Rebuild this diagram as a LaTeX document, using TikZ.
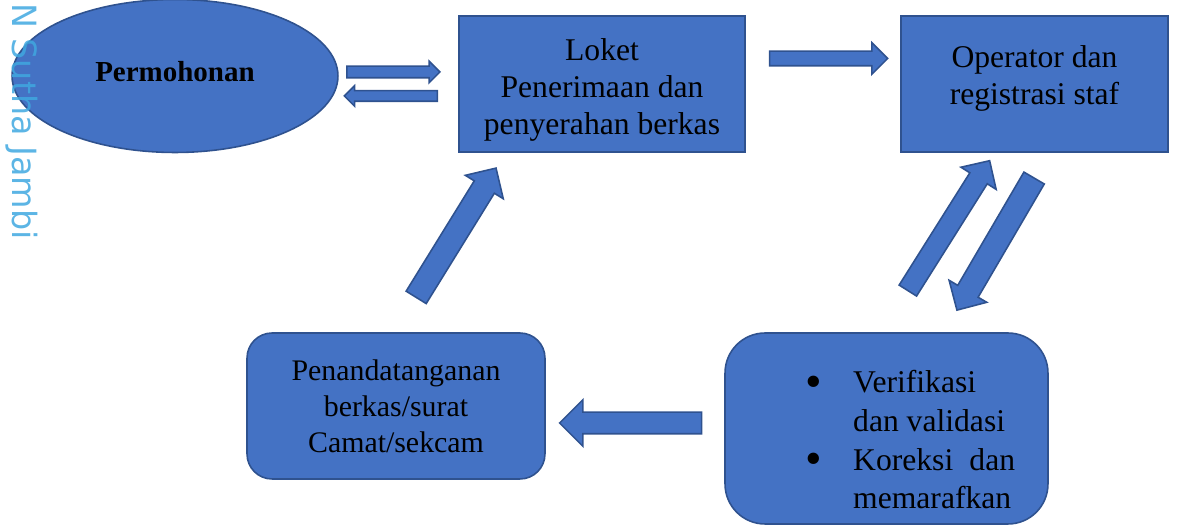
\documentclass[tikz,border=0pt]{standalone}
\usepackage{fontspec}
\setmainfont{Liberation Serif}
\newfontfamily\wmfont{DejaVu Sans}
\usetikzlibrary{positioning,shapes.geometric,shapes.arrows}
\definecolor{boxfill}{RGB}{68,114,196}
\definecolor{boxline}{RGB}{47,82,143}
\definecolor{wmblue}{RGB}{64,168,224}
\newcommand{\bigbul}{\makebox[0.96cm][l]{\raisebox{-2.6pt}{\scalebox{1.5}{\textbullet}}}}
\tikzset{box/.style={rectangle,draw=boxline,fill=boxfill,line width=0.9pt,inner sep=0pt},
	 rbox/.style={box,rounded corners=0.5cm},
	 oval/.style={ellipse,draw=boxline,fill=boxfill,line width=0.9pt,inner sep=0pt},
	 txt/.style={align=center,font=\fontsize{18}{21}\selectfont},
	 blok/.style={single arrow,draw=boxline,fill=boxfill,line width=0.9pt,inner xsep=0pt,single arrow tip angle=90}
	 }
\begin{document}
\begin{tikzpicture}[x=0.02cm,y=-0.02cm]
	\useasboundingbox (0,0) rectangle (1178,526);

	\node[oval,minimum width=6.52cm,minimum height=3.06cm] (perm) at (175,76) {};
	\node[font=\bfseries\fontsize{16.5}{20}\selectfont] (permT) at (175,72) {Permohonan};
	\node[box,minimum width=5.72cm,minimum height=2.72cm] (loket) at (602,84) {};
	\node[txt] (loketT) at (602,90) {Loket\\Penerimaan dan\\penyerahan berkas};
	\node[box,minimum width=5.34cm,minimum height=2.72cm] (oper) at (1034.5,84) {};
	\node[txt] (operT) at (1034.5,78) {Operator dan\\registrasi staf};
	\node[rbox,txt,font=\fontsize{17}{20.5}\selectfont,minimum width=5.96cm,minimum height=2.92cm] (tanda) at (396,406) {Penandatanganan\\berkas/surat\\Camat/sekcam};
	\node[rbox,rounded corners=0.8cm,minimum width=6.46cm,minimum height=3.82cm] (verif) at (886.5,428.5) {};
%	\node[txt] (verifT) [below=of oper] {};
	\node[txt,align=left,anchor=west,font=\fontsize{18}{22}\selectfont] (verifT) at (799,440)
	  {\bigbul Verifikasi\\\hspace*{0.96cm}dan validasi\\
	   \bigbul\makebox[3.24cm][s]{Koreksi dan}\\\hspace*{0.96cm}memarafkan};

	\node[blok,minimum height=1.86cm,inner ysep=0.1cm,single arrow head extend=0.1cm] (p2l) at (390.5,72) {};
	\node[blok,minimum height=1.86cm,inner ysep=0.09cm,single arrow head extend=0.1cm,rotate=180] (l2p) at (393.5,96) {};
	\node[blok,minimum height=2.36cm,inner ysep=0.13cm,single arrow head extend=0.17cm] (l2o) at (825,58.5) {};
	\node[blok,minimum height=3.07cm,inner ysep=0.19cm,single arrow head extend=0.21cm,rotate=57.8] (v2o) at (946,230) {};
	\node[blok,minimum height=3.06cm,inner ysep=0.22cm,single arrow head extend=0.2cm,rotate=-120.3] (o2v) at (998.5,239) {};
	\node[blok,minimum height=2.84cm,inner ysep=0.2cm,single arrow head extend=0.25cm,rotate=180] (v2t) at (636,423) {};
	\node[blok,minimum height=3.04cm,inner ysep=0.22cm,single arrow head extend=0.21cm,rotate=58.3] (t2l) at (453,237.75) {};

	\node[text=wmblue,opacity=0.85,font=\wmfont\fontsize{19}{19}\selectfont,rotate=-90,anchor=base east,inner sep=0pt] (wm) at (12,240) {N Sutha Jambi};
\end{tikzpicture}
\end{document}
